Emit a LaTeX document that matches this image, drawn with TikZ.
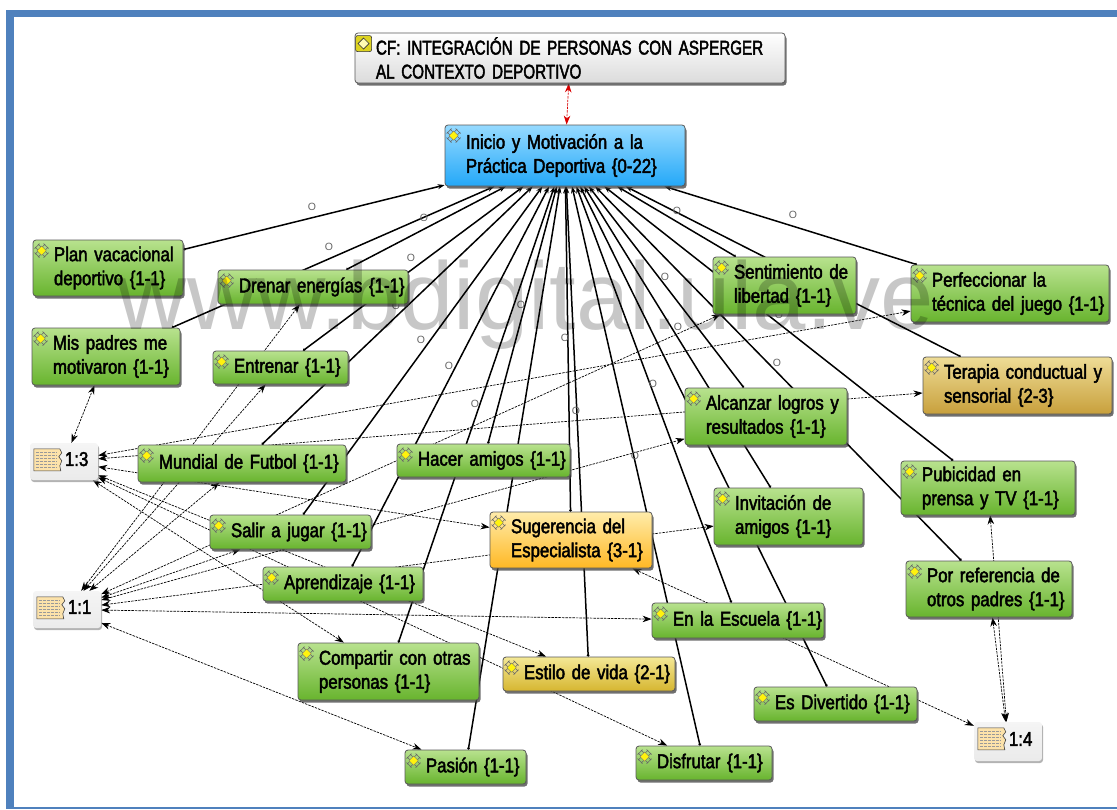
\documentclass[tikz,border=0pt]{standalone}
\usepackage{fontspec}
\setmainfont{Liberation Sans}
\newfontfamily\boxfont[FakeStretch=0.84,FakeBold=2.2,WordSpace=0.35]{Liberation Sans}
\newfontfamily\rootfont[FakeStretch=0.76,FakeBold=2.2,WordSpace=0.35]{Liberation Sans}
\usetikzlibrary{arrows.meta,backgrounds,shadows}
\tikzset{
  basebox/.style={draw=black!65,line width=0.8pt,rounded corners=3pt,inner sep=0pt,
    align=left,font=\boxfont\fontsize{20}{24}\selectfont,
    drop shadow={shadow xshift=1.5pt,shadow yshift=-2.5pt,fill=black!75,opacity=0.75},
    execute at begin node={\leftskip=21pt\rightskip=-30pt plus 1fil}},
  greenbox/.style={basebox,top color=boxgreenA,bottom color=boxgreenB},
  goldbox/.style={basebox,top color=boxgoldA,bottom color=boxgoldB},
  tanbox/.style={basebox,top color=boxtanA,bottom color=boxtanB},
  orangebox/.style={basebox,top color=boxorangeA,bottom color=boxorangeB},
  bluebox/.style={basebox,top color=boxblueA,bottom color=boxblueB},
  greybox/.style={basebox,top color=white,bottom color=black!14,font=\rootfont\fontsize{20}{24}\selectfont},
  quotebox/.style={draw=none,rounded corners=3pt,inner sep=0pt,align=left,
    font=\boxfont\fontsize{20}{24}\selectfont,minimum height=37pt,text width=68pt,
    top color=black!4,bottom color=black!8,
    drop shadow={shadow xshift=1pt,shadow yshift=-2pt,fill=black!50,opacity=0.6},
    execute at begin node={\leftskip=35pt\rightskip=-30pt plus 1fil}},
  codelink/.style={line width=1.5pt,{Circle[length=2.5pt]}-{Stealth[length=7pt,width=5pt]}},
  memolink/.style={line width=0.7pt,dash pattern=on 2.4pt off 1.1pt,
    {Stealth[length=9pt,width=6.5pt]}-{Stealth[length=9pt,width=6.5pt]}},
  redlink/.style={memolink,draw=red!85!black,color=red!85!black},
  zerolabel/.style={inner sep=0pt,text=black!60,font=\fontsize{10.5}{11}\selectfont},
  codeicon/.pic={
    \foreach \a in {0,90,180,270}
      \draw[rotate=\a,line width=0.45pt,black!60] (-7,-2)--(-2,-7) (-6.5,-3.5)--(-3.5,-0.5) (-3.5,-6.5)--(-0.5,-3.5);
    \fill[yellow!95!white,draw=black!55,line width=0.3pt] (-4.6,0)--(0,-4.6)--(4.6,0)--(0,4.6)--cycle;
  },
  rooticon/.pic={
    \fill[yellow!85!black,draw=black!80,line width=0.6pt,rounded corners=2pt] (-8,-8) rectangle (8,8);
    \draw[black!80,fill=yellow!30,line width=0.7pt] (-5.5,0)--(0,-5.5)--(5.5,0)--(0,5.5)--cycle;
  },
  quoteicon/.pic={
    \draw[fill=papertan,draw=black!75,line width=0.6pt] (-14,-11)--(12,-11)--(14,-7)--(11,-3)--(14,1)--(12,6)--(13,11)--(-14,11)--cycle;
    \foreach \y in {-8,-5,-2,1,4,7}
      \draw[black!40,line width=0.5pt,dash pattern=on 3pt off 1pt] (-12,\y)--(9,\y);
  }
}
\begin{document}
\begin{tikzpicture}[x=1pt,y=-1pt]
\definecolor{boxgreenA}{RGB}{184,226,142}
\definecolor{boxgreenB}{RGB}{104,180,46}
\definecolor{boxgoldA}{RGB}{244,232,150}
\definecolor{boxgoldB}{RGB}{214,182,48}
\definecolor{boxtanA}{RGB}{238,220,150}
\definecolor{boxtanB}{RGB}{200,160,60}
\definecolor{boxorangeA}{RGB}{255,236,170}
\definecolor{boxorangeB}{RGB}{255,184,36}
\definecolor{boxblueA}{RGB}{150,218,255}
\definecolor{boxblueB}{RGB}{36,168,248}
\definecolor{framecolor}{RGB}{79,129,189}
\definecolor{papertan}{RGB}{252,226,170}
\useasboundingbox (0,0) rectangle (1117,809);
\fill[framecolor] (6,10) rectangle (1117,17);
\fill[framecolor] (6,10) rectangle (14,809);
\fill[framecolor] (6,807) rectangle (1117,809);
\node[greybox,text width=430pt,minimum height=50pt] (root) at (570,58) {CF: INTEGRACIÓN DE PERSONAS CON ASPERGER\\AL CONTEXTO DEPORTIVO};
\node[bluebox,text width=240pt,minimum height=61pt] (hub) at (565,155.5) {Inicio y Motivación a la\\Práctica Deportiva \{0-22\}};
\node[greenbox,text width=150pt,minimum height=56pt] (plan) at (108,268) {Plan vacacional\\deportivo \{1-1\}};
\node[greenbox,text width=190pt,minimum height=34pt] (drenar) at (313,287) {Drenar energías \{1-1\}};
\node[greenbox,text width=148pt,minimum height=57pt] (padres) at (106,356.5) {Mis padres me\\motivaron \{1-1\}};
\node[greenbox,text width=135pt,minimum height=33pt] (entrenar) at (280.5,367.5) {Entrenar \{1-1\}};
\node[greenbox,text width=143pt,minimum height=57pt] (libertad) at (784.5,285.5) {Sentimiento de\\libertad \{1-1\}};
\node[greenbox,text width=198pt,minimum height=57pt] (tecnica) at (1010,293.5) {Perfeccionar la\\técnica del juego \{1-1\}};
\node[tanbox,text width=189pt,minimum height=57pt] (terapia) at (1017.5,385.5) {Terapia conductual y\\sensorial \{2-3\}};
\node[greenbox,text width=162pt,minimum height=57pt] (logros) at (766,416.5) {Alcanzar logros y\\resultados \{1-1\}};
\node[greenbox,text width=174pt,minimum height=54pt] (prensa) at (988,488) {Pubicidad en\\prensa y TV \{1-1\}};
\node[greenbox,text width=166pt,minimum height=56pt] (referencia) at (989,589) {Por referencia de\\otros padres \{1-1\}};
\node[greenbox,text width=149pt,minimum height=57pt] (invitacion) at (788.5,516.5) {Invitación de\\amigos \{1-1\}};
\node[orangebox,text width=162pt,minimum height=56pt] (especialista) at (571,540) {Sugerencia del\\Especialista \{3-1\}};
\node[greenbox,text width=173pt,minimum height=33pt] (amigos) at (483.5,460.5) {Hacer amigos \{1-1\}};
\node[greenbox,text width=208pt,minimum height=37pt] (mundial) at (242,463.5) {Mundial de Futbol \{1-1\}};
\node[greenbox,text width=161pt,minimum height=34pt] (salir) at (290.5,532) {Salir a jugar \{1-1\}};
\node[greenbox,text width=160pt,minimum height=34pt] (aprendizaje) at (343,584) {Aprendizaje \{1-1\}};
\node[greenbox,text width=181pt,minimum height=57pt] (compartir) at (388.5,671.5) {Compartir con otras\\personas \{1-1\}};
\node[goldbox,text width=172pt,minimum height=34pt] (estilo) at (589,674) {Estilo de vida \{2-1\}};
\node[greenbox,text width=172pt,minimum height=35pt] (escuela) at (738,620.5) {En la Escuela \{1-1\}};
\node[greenbox,text width=163pt,minimum height=34pt] (divertido) at (835.5,704) {Es Divertido \{1-1\}};
\node[greenbox,text width=136pt,minimum height=34pt] (disfrutar) at (704,763) {Disfrutar \{1-1\}};
\node[greenbox,text width=121pt,minimum height=34pt] (pasion) at (465.5,767) {Pasión \{1-1\}};
\node[quotebox] (quoteC) at (64,461.5) {\raisebox{5pt}{1:3}};
\node[quotebox] (quoteA) at (67,609.5) {\raisebox{5pt}{1:1}};
\node[quotebox,minimum height=39pt] (quoteD) at (1008,741.5) {\raisebox{5pt}{1:4}};
\pic at ([shift={(9,11)}]root.north west) {rooticon};
\foreach \n in {hub,plan,drenar,padres,entrenar,libertad,tecnica,terapia,logros,prensa,referencia,invitacion,especialista,amigos,mundial,salir,aprendizaje,compartir,estilo,escuela,divertido,disfrutar,pasion}
  \pic at ([shift={(9,11)}]\n.north west) {codeicon};
\foreach \n in {quoteC,quoteA,quoteD}
  \pic at ([shift={(18,17)}]\n.north west) {quoteicon};
\begin{scope}[on background layer]
\draw[redlink] (root) -- (hub);
\foreach \n in {plan,drenar,padres,entrenar,libertad,tecnica,terapia,logros,prensa,referencia,invitacion,especialista,amigos,mundial,salir,aprendizaje,compartir,estilo,escuela,divertido,disfrutar,pasion}
  \draw[codelink] (\n) -- (hub);
\foreach \n in {padres,tecnica,terapia,especialista,estilo,disfrutar,compartir}
  \draw[memolink] (quoteC) -- (\n);
\foreach \n in {drenar,entrenar,mundial,libertad,salir,logros,invitacion,escuela,pasion}
  \draw[memolink] (quoteA) -- (\n);
\foreach \n in {especialista,referencia,prensa}
  \draw[memolink] (quoteD) -- (\n);
\foreach \x/\y [count=\i] in {312/207,424/218,329/247,411/258,396/306,521/305,421/340,449/366,475/404,677/211,793/215,665/277,678/327,565/338,779/315,777/363,653/384,576/411,635/456}
  \node[zerolabel] (zero\i) at (\x,\y) {O};
\end{scope}
\node[inner sep=0pt,text=black,text opacity=0.22,font=\fontsize{96}{96}\selectfont] (watermark) at (526,305) {www.bdigital.ula.ve};
\end{tikzpicture}
\end{document}
